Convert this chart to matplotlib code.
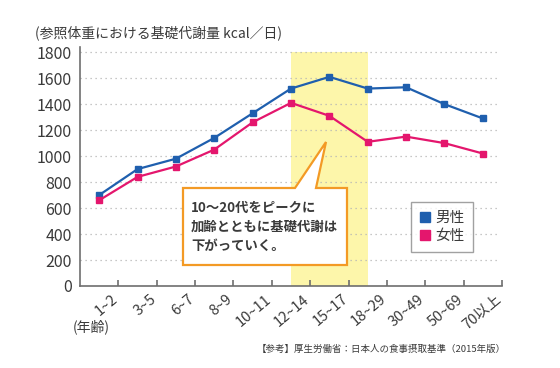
import matplotlib
matplotlib.use('Agg')
import matplotlib.pyplot as plt
from matplotlib.patches import Polygon
from matplotlib.lines import Line2D

plt.rcParams['font.family'] = ['Noto Sans CJK JP', 'DejaVu Sans']

# ─── Data ───
AGES = ['1~2', '3~5', '6~7', '8~9', '10~11', '12~14', '15~17',
        '18~29', '30~49', '50~69', '70以上']
MALE = [700, 900, 980, 1140, 1330, 1520, 1610, 1520, 1530, 1400, 1290]
FEMALE = [660, 840, 920, 1050, 1260, 1410, 1310, 1110, 1150, 1100, 1020]
Y_TICKS = [0, 200, 400, 600, 800, 1000, 1200, 1400, 1600, 1800]
HIGHLIGHT = ('12~14', '18~29')

# ─── Colors ───
BLUE = '#1f5fae'
PINK = '#e4166d'
YELLOW = '#fdf6aa'
ORANGE = '#f39a25'
GRAY = '#6e6e6e'
TEXT = '#3a3a3a'

W, H = 560, 368
fig = plt.figure(figsize=(W / 100, H / 100), dpi=100)
fig.patch.set_facecolor('white')

def px(x, y):
    """pixel (top-left origin) -> figure fraction"""
    return x / W, 1 - y / H

ax = fig.add_axes([80 / W, 82 / H, 422 / W, 239 / H])
x = list(range(len(AGES)))
ax.set_xlim(-0.5, len(AGES) - 0.5)
ax.set_ylim(0, 1840)

# highlight band
i0, i1 = AGES.index(HIGHLIGHT[0]), AGES.index(HIGHLIGHT[1])
ax.fill_between([i0, i1], 0, 1800, color=YELLOW, lw=0, zorder=0)

# dotted grid
for v in Y_TICKS[1:]:
    ax.plot([-0.5, len(AGES) - 0.62], [v, v], color='#b5b5b5', lw=0.9,
            ls=(0, (1, 3)), zorder=1)

ax.plot(x, MALE, color=BLUE, lw=1.6, marker='s', ms=4.5, zorder=4)
ax.plot(x, FEMALE, color=PINK, lw=1.6, marker='s', ms=4.5, zorder=4)

for s in ['top', 'right']:
    ax.spines[s].set_visible(False)
for s in ['left', 'bottom']:
    ax.spines[s].set_color(GRAY)
    ax.spines[s].set_linewidth(1.2)

ax.set_yticks(Y_TICKS)
ax.set_yticklabels([str(v) for v in Y_TICKS], fontsize=11.5, color=TEXT)
ax.tick_params(axis='y', length=0, pad=6)

ax.set_xticks([i + 0.5 for i in x])
ax.set_xticklabels([])
ax.tick_params(axis='x', direction='in', length=4, color=GRAY, width=1.2)

for i, lab in enumerate(AGES):
    ax.annotate(lab, xy=(i, 0), xytext=(12, -6), textcoords='offset pixels',
                rotation=40, ha='right', va='top', rotation_mode='anchor',
                fontsize=10.5, color=TEXT, annotation_clip=False)

# titles
fig.text(*px(35, 33), '(参照体重における基礎代謝量 kcal／日)', fontsize=10,
         color=TEXT, ha='left', va='center')
fig.text(*px(73, 327), '(年齢)', fontsize=10, color=TEXT, ha='left', va='center')
fig.text(*px(506, 349), '【参考】厚生労働省：日本人の食事摂取基準（2015年版）',
         fontsize=6.8, color=TEXT, ha='right', va='center')

# callout
pts = [(183, 188), (295, 188), (326, 142), (316, 188), (347, 188),
       (347, 265), (183, 265)]
fig.patches.append(Polygon([px(a, b) for a, b in pts], closed=True,
                           transform=fig.transFigure, facecolor='white',
                           edgecolor=ORANGE, lw=1.6, zorder=5))
fig.text(*px(191, 227), '10～20代をピークに\n加齢とともに基礎代謝は\n下がっていく。',
         fontsize=9.6, color=TEXT, fontweight='bold', ha='left', va='center',
         linespacing=1.45, zorder=6)

# legend
handles = [Line2D([], [], color=BLUE, marker='s', ls='none', ms=6.5),
           Line2D([], [], color=PINK, marker='s', ls='none', ms=6.5)]
leg = fig.legend(handles, ['男性', '女性'], loc='center',
                 bbox_to_anchor=px(442, 227), fontsize=10.5, frameon=True,
                 fancybox=False, handlelength=0.8, handletextpad=0.3,
                 labelspacing=0.25, borderpad=0.6)
leg.get_frame().set_edgecolor('#8a8a8a')
leg.get_frame().set_linewidth(1.0)
for t in leg.get_texts():
    t.set_color(TEXT)

fig.savefig('out.png', dpi=100, facecolor='white')
